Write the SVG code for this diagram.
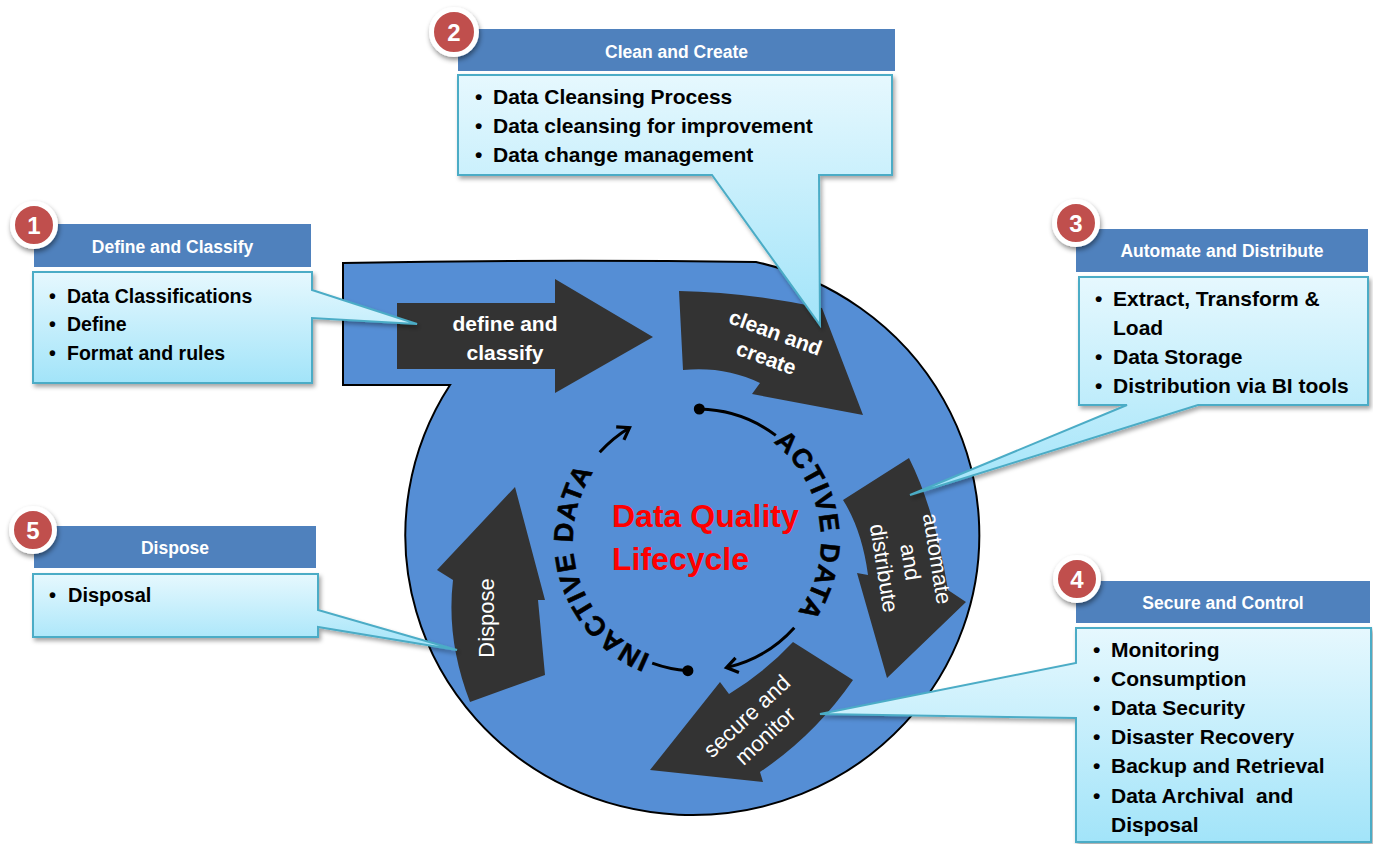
<svg xmlns="http://www.w3.org/2000/svg" width="1373" height="844" viewBox="0 0 1373 844">
<style>
.f{font-family:"Liberation Sans",Arial,sans-serif}
.arr{fill:#333333}
.at{font-family:"Liberation Sans",Arial,sans-serif;fill:#ffffff;text-anchor:middle}
.hb{fill:#4F81BD}
.ht{font-family:"Liberation Sans",Arial,sans-serif;font-weight:bold;font-size:17.5px;fill:#ffffff;text-anchor:middle}
.cb{fill:url(#cg);stroke:#4BACC6;stroke-width:2;stroke-linejoin:miter}
.bt{font-family:"Liberation Sans",Arial,sans-serif;font-weight:bold;fill:#000000}
.bd{fill:#C0504D;stroke:#ffffff;stroke-width:5}
.bn{font-family:"Liberation Sans",Arial,sans-serif;font-weight:bold;font-size:24px;fill:#ffffff;text-anchor:middle}
.rl{fill:none;stroke:#000;stroke-width:3}
.rt{font-family:"Liberation Sans",Arial,sans-serif;font-weight:bold;font-size:27px;letter-spacing:1.2px;fill:#000;stroke:#000;stroke-width:0.6}
</style>
<defs>
<linearGradient id="cg" x1="0" y1="0" x2="0" y2="1">
<stop offset="0" stop-color="#E6F8FE"/>
<stop offset="1" stop-color="#A2E4F9"/>
</linearGradient>
<filter id="sh" x="-10%" y="-10%" width="125%" height="130%">
<feDropShadow dx="2" dy="3" stdDeviation="2" flood-color="#000" flood-opacity="0.35"/>
</filter>
<filter id="bsh" x="-40%" y="-40%" width="180%" height="180%">
<feDropShadow dx="1" dy="3" stdDeviation="2.5" flood-color="#000" flood-opacity="0.45"/>
</filter>
<marker id="dot" markerUnits="userSpaceOnUse" markerWidth="14" markerHeight="14" refX="7" refY="7">
<circle cx="7" cy="7" r="5.5" fill="#000"/>
</marker>
<marker id="head" markerUnits="userSpaceOnUse" markerWidth="20" markerHeight="20" refX="14" refY="10" orient="auto">
<path d="M3,2.5 L14,10 L3,17.5" fill="none" stroke="#000" stroke-width="3.2"/>
</marker>
<path id="tpA" d="M773.3,442.3 A124,124 0 0,1 759,647.4"/>
<path id="tpI" d="M650.5,655 A124,124 0 0,1 617.3,445"/>
</defs>

<rect width="1373" height="844" fill="#ffffff"/>

<g id="blob">
<path d="M343,263 Q550,259 756,262 A287,280 0 1,1 450,385 L343,385 Z" fill="#558ED5" stroke="#000" stroke-width="2"/>
</g>

<g id="arrow-define">
<path class="arr" d="M397,303 H555 V279 L653,337 L555,393 V369 H397 Z"/>
<text class="at" font-weight="bold" font-size="21" x="505" y="331">define and</text>
<text class="at" font-weight="bold" font-size="21" x="505" y="360">classify</text>
</g>

<g id="arrow-clean">
<path class="arr" d="M679,291 Q745,292 822,308 L863,415 L752,394 L760,383 Q725,366 683,370 Z"/>
<g transform="translate(771,345) rotate(20)">
<text class="at" font-weight="bold" font-size="21" x="0" y="-6">clean and</text>
<text class="at" font-weight="bold" font-size="21" x="0" y="21">create</text>
</g>
</g>

<g id="arrow-automate">
<path class="arr" d="M909,458 Q935,510 948,590 L966,602 L887,678 L857,573 L868,575 Q862,530 843,500 Z"/>
<g transform="translate(910,562) rotate(81)">
<text class="at" font-size="22" x="1" y="-20">automate</text>
<text class="at" font-size="22" x="0" y="7">and</text>
<text class="at" font-size="22" x="2" y="34">distribute</text>
</g>
</g>

<g id="arrow-secure">
<path class="arr" d="M793,642 L853,680 Q815,735 760,772 L763,782 L650,770 L720,682 L729,694 Q765,672 793,642 Z"/>
<g transform="translate(756,726) rotate(-43)">
<text class="at" font-size="22" x="0" y="-6">secure and</text>
<text class="at" font-size="22" x="0" y="21">monitor</text>
</g>
</g>

<g id="arrow-dispose">
<path class="arr" d="M515,487 L545,600 L538,600 L545,675 L470,702 Q446,640 453,580 L437,570 Z"/>
<g transform="translate(487,618) rotate(-90)">
<text class="at" font-size="22" x="0" y="7">Dispose</text>
</g>
</g>

<g id="connectors">
<path class="rl" d="M699.3,409 A131,131 0 0,1 775.8,435.4" marker-start="url(#dot)"/>
<path class="rl" d="M794.3,627.7 A131,131 0 0,1 726.5,667.6" marker-end="url(#head)"/>
<path class="rl" d="M687.9,670.7 A131,131 0 0,1 652.2,663.1" marker-start="url(#dot)"/>
<path class="rl" d="M599.7,452.3 A131,131 0 0,1 629.5,427.7" marker-end="url(#head)"/>
</g>

<g id="ring-labels">
<text class="rt"><textPath href="#tpA">ACTIVE DATA</textPath></text>
<text class="rt"><textPath href="#tpI">INACTIVE DATA</textPath></text>
</g>

<g id="title">
<text class="f" font-weight="bold" font-size="32" fill="#FF0000" x="612" y="527">Data Quality</text>
<text class="f" font-weight="bold" font-size="32" fill="#FF0000" x="612" y="570">Lifecycle</text>
</g>

<g id="callout-1">
<rect class="hb" x="34" y="224" width="277" height="43"/>
<text class="ht" x="172.5" y="253">Define and Classify</text>
<path class="cb" filter="url(#sh)" d="M33,272 H312 V290 L417,324 L312,318 V383 H33 Z"/>
<text class="bt" font-size="19.5" y="303"><tspan x="49">•</tspan><tspan x="67">Data Classifications</tspan></text>
<text class="bt" font-size="19.5" y="331"><tspan x="49">•</tspan><tspan x="67">Define</tspan></text>
<text class="bt" font-size="19.5" y="360"><tspan x="49">•</tspan><tspan x="67">Format and rules</tspan></text>
<circle class="bd" filter="url(#bsh)" cx="34" cy="225" r="21.5"/>
<text class="bn" x="34" y="234">1</text>
</g>

<g id="callout-2">
<rect class="hb" x="458" y="29" width="437" height="42"/>
<text class="ht" x="676.5" y="58">Clean and Create</text>
<path class="cb" filter="url(#sh)" d="M458,75 H892 V175 H819 L820,325 L712,175 H458 Z"/>
<text class="bt" font-size="21" y="104"><tspan x="475">•</tspan><tspan x="493">Data Cleansing Process</tspan></text>
<text class="bt" font-size="21" y="133"><tspan x="475">•</tspan><tspan x="493">Data cleansing for improvement</tspan></text>
<text class="bt" font-size="21" y="162"><tspan x="475">•</tspan><tspan x="493">Data change management</tspan></text>
<circle class="bd" filter="url(#bsh)" cx="454" cy="32" r="22.5"/>
<text class="bn" x="454" y="41">2</text>
</g>

<g id="callout-3">
<rect class="hb" x="1076" y="229" width="292" height="43"/>
<text class="ht" x="1222" y="257">Automate and Distribute</text>
<path class="cb" filter="url(#sh)" d="M1079,277 H1368 V405 H1198 L910,495 L1127,405 H1079 Z"/>
<text class="bt" font-size="21" y="306"><tspan x="1095">•</tspan><tspan x="1113">Extract, Transform &amp;</tspan></text>
<text class="bt" font-size="21" y="335"><tspan x="1113">Load</tspan></text>
<text class="bt" font-size="21" y="364"><tspan x="1095">•</tspan><tspan x="1113">Data Storage</tspan></text>
<text class="bt" font-size="21" y="393"><tspan x="1095">•</tspan><tspan x="1113">Distribution via BI tools</tspan></text>
<circle class="bd" filter="url(#bsh)" cx="1076" cy="223" r="21.5"/>
<text class="bn" x="1076" y="232">3</text>
</g>

<g id="callout-4">
<rect class="hb" x="1076" y="581" width="294" height="42"/>
<text class="ht" x="1223" y="609">Secure and Control</text>
<path class="cb" filter="url(#sh)" d="M1076,628 H1371 V842 H1076 V718 L820,714 L1076,663 Z"/>
<text class="bt" font-size="21" y="657"><tspan x="1093">•</tspan><tspan x="1111">Monitoring</tspan></text>
<text class="bt" font-size="21" y="686"><tspan x="1093">•</tspan><tspan x="1111">Consumption</tspan></text>
<text class="bt" font-size="21" y="715"><tspan x="1093">•</tspan><tspan x="1111">Data Security</tspan></text>
<text class="bt" font-size="21" y="744"><tspan x="1093">•</tspan><tspan x="1111">Disaster Recovery</tspan></text>
<text class="bt" font-size="21" y="773"><tspan x="1093">•</tspan><tspan x="1111">Backup and Retrieval</tspan></text>
<text class="bt" font-size="21" y="803" xml:space="preserve"><tspan x="1093">•</tspan><tspan x="1111">Data Archival  and</tspan></text>
<text class="bt" font-size="21" y="832"><tspan x="1111">Disposal</tspan></text>
<circle class="bd" filter="url(#bsh)" cx="1077" cy="579" r="21.5"/>
<text class="bn" x="1077" y="588">4</text>
</g>

<g id="callout-5">
<rect class="hb" x="34" y="526" width="282" height="42"/>
<text class="ht" x="175" y="554">Dispose</text>
<path class="cb" filter="url(#sh)" d="M33,574 H318 V610 L457,650 L318,627 V637 H33 Z"/>
<text class="bt" font-size="20" y="602"><tspan x="49">•</tspan><tspan x="68">Disposal</tspan></text>
<circle class="bd" filter="url(#bsh)" cx="33" cy="530" r="21.5"/>
<text class="bn" x="33" y="539">5</text>
</g>
</svg>
